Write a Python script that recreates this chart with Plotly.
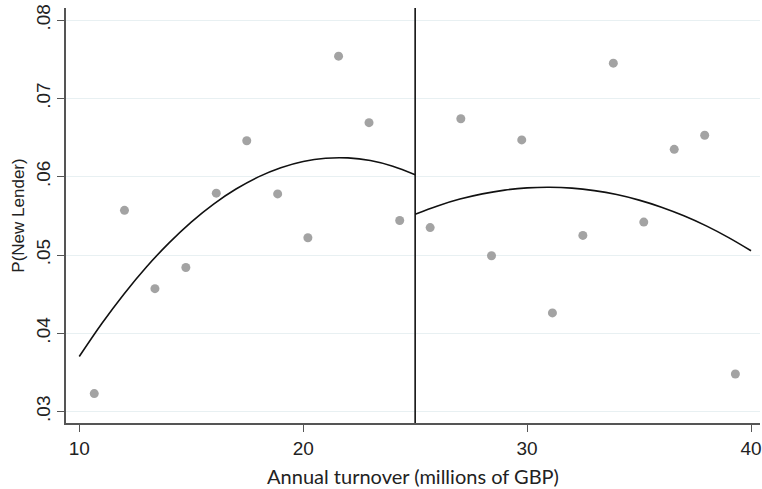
import plotly.graph_objects as go

# Binned scatter points
turnover = [10.67, 12.02, 13.38, 14.76, 16.12, 17.48, 18.86, 20.21, 21.58, 22.94, 24.31,
            25.67, 27.04, 28.41, 29.76, 31.13, 32.49, 33.85, 35.21, 36.57, 37.93, 39.30]
p_new_lender = [0.0323, 0.0557, 0.0457, 0.0484, 0.0579, 0.0646, 0.0578, 0.0522, 0.0754, 0.0669, 0.0544,
                0.0535, 0.0674, 0.0499, 0.0647, 0.0426, 0.0525, 0.0745, 0.0542, 0.0635, 0.0653, 0.0348]

# Quadratic fit left of threshold
fit_left_x = [10, 11, 12, 13, 14, 15, 16, 17, 18, 19, 20, 21, 22, 23, 24, 25]
fit_left_y = [0.03703, 0.04122, 0.04503, 0.04847, 0.05152, 0.05421, 0.05651, 0.05843,
              0.05998, 0.06115, 0.06195, 0.06236, 0.06240, 0.06206, 0.06134, 0.06025]

# Quadratic fit right of threshold
fit_right_x = [25, 26, 27, 28, 29, 30, 31, 32, 33, 34, 35, 36, 37, 38, 39, 40]
fit_right_y = [0.05520, 0.05627, 0.05714, 0.05781, 0.05829, 0.05857, 0.05865, 0.05854,
               0.05822, 0.05772, 0.05701, 0.05611, 0.05501, 0.05372, 0.05222, 0.05054]

threshold = 25
x_ticks = [10, 20, 30, 40]
y_ticks = [0.03, 0.04, 0.05, 0.06, 0.07, 0.08]
y_ticktext = [".03", ".04", ".05", ".06", ".07", ".08"]

fig = go.Figure()
fig.add_trace(go.Scatter(x=turnover, y=p_new_lender, mode="markers",
                         marker=dict(color="#a3a3a3", size=9, line=dict(width=0)),
                         showlegend=False, hoverinfo="skip"))
fig.add_trace(go.Scatter(x=fit_left_x, y=fit_left_y, mode="lines", line_shape="spline",
                         line=dict(color="#111111", width=1.6), showlegend=False))
fig.add_trace(go.Scatter(x=fit_right_x, y=fit_right_y, mode="lines", line_shape="spline",
                         line=dict(color="#111111", width=1.6), showlegend=False))

fig.add_shape(type="line", x0=threshold, x1=threshold, xref="x", y0=0, y1=1, yref="paper",
              line=dict(color="#111111", width=1.6))

fig.update_layout(
    width=762, height=489,
    margin=dict(l=66, r=0, t=8, b=66),
    paper_bgcolor="white", plot_bgcolor="white",
    font=dict(family="Liberation Sans, Arial, sans-serif", size=18, color="#222222"),
)
fig.update_xaxes(range=[9.408, 40.40], tickvals=x_ticks, showgrid=False, zeroline=False,
                 showline=True, linecolor="#555555", linewidth=1.5,
                 ticks="outside", ticklen=7, tickcolor="#555555", tickwidth=1.3,
                 ticklabeloverflow="allow",
                 tickfont=dict(family="Liberation Sans, Arial, sans-serif", size=19, color="#222222"),
                 title=dict(text="Annual turnover (millions of GBP)",
                            font=dict(family="Lato, Open Sans, sans-serif", size=20, color="#222222"),
                            standoff=12))
fig.update_yaxes(range=[0.02854, 0.08155], tickvals=y_ticks, ticktext=y_ticktext, tickangle=-90,
                 showgrid=True, gridcolor="#e8f0f2", gridwidth=1, zeroline=False,
                 showline=True, linecolor="#555555", linewidth=1.5,
                 ticks="outside", ticklen=7, tickcolor="#555555", tickwidth=1.3,
                 tickfont=dict(family="Liberation Sans, Arial, sans-serif", size=19, color="#222222"),
                 title=dict(text="P(New Lender)",
                            font=dict(family="Liberation Sans, Arial, sans-serif", size=17, color="#222222"),
                            standoff=4))

fig.write_html("out.html")
